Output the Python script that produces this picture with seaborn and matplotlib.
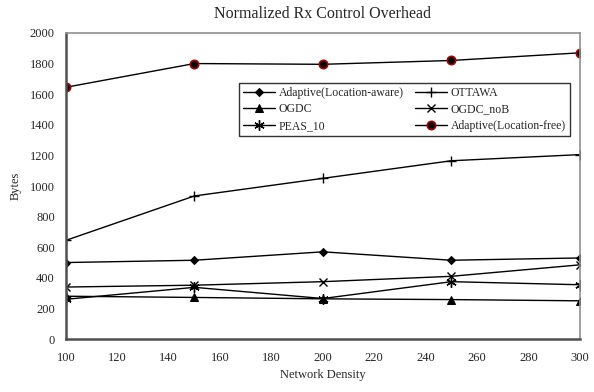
import matplotlib
matplotlib.use("Agg")
import matplotlib.pyplot as plt
import seaborn as sns
import pandas as pd

density = [100, 150, 200, 250, 300]
adaptive_aware = [500, 515, 570, 515, 530]
ottawa = [645, 935, 1050, 1165, 1205]
ogdc = [280, 272, 263, 258, 250]
ogdc_nob = [340, 352, 375, 410, 485]
peas_10 = [260, 338, 265, 375, 355]
adaptive_free = [1645, 1800, 1795, 1820, 1870]

x_ticks = [100, 120, 140, 160, 180, 200, 220, 240, 260, 280, 300]
y_ticks = [0, 200, 400, 600, 800, 1000, 1200, 1400, 1600, 1800, 2000]

title = "Normalized Rx Control Overhead"
xlabel = "Network Density"
ylabel = "Bytes"

series = [
    ("Adaptive(Location-aware)", adaptive_aware, dict(marker="D", ms=4.5, mfc="black", mec="black")),
    ("OGDC", ogdc, dict(marker="^", ms=6, mfc="black", mec="black")),
    ("PEAS_10", peas_10, dict(marker=(6, 2, 0), ms=7.5, mfc="black", mec="black", mew=1.0)),
    ("OTTAWA", ottawa, dict(marker="+", ms=7, mfc="black", mec="black", mew=1.0)),
    ("OGDC_noB", ogdc_nob, dict(marker="x", ms=5.5, mfc="black", mec="black", mew=1.0)),
    ("Adaptive(Location-free)", adaptive_free, dict(marker="o", ms=6, mfc="black", mec="#a00000", mew=1.2)),
]

rows = []
for name, vals, _ in series:
    for d, v in zip(density, vals):
        rows.append({"density": d, "value": v, "series": name})
df = pd.DataFrame(rows)

sns.set_style("white")
plt.rcParams["font.family"] = ["Liberation Serif", "DejaVu Serif"]

fig = plt.figure(figsize=(5.94, 3.92), dpi=100)
ax = fig.add_axes([0.111, 0.135, 0.865, 0.781])

for name, vals, kw in series:
    sub = df[df["series"] == name]
    sns.lineplot(data=sub, x="density", y="value", ax=ax, color="black",
                 linewidth=1.0, label=name, **kw)

ax.set_xlim(100, 300)
ax.set_ylim(0, 2000)
ax.set_xticks(x_ticks)
ax.set_yticks(y_ticks)
ax.tick_params(direction="in", length=3.5, width=1, color="#404040",
               labelsize=9, pad=8)
ax.tick_params(axis="x", pad=9)
for s in ax.spines.values():
    s.set_color("#909090")
    s.set_linewidth(1.2)
ax.spines["left"].set_color("#505050")
ax.spines["left"].set_linewidth(1.8)
ax.spines["bottom"].set_color("#505050")
ax.spines["bottom"].set_linewidth(1.8)

ax.set_title(title, fontsize=11.5, pad=11)
ax.set_xlabel(xlabel, fontsize=9, labelpad=4)
ax.set_ylabel(ylabel, fontsize=9, labelpad=6)

leg = ax.legend(ncol=2, loc="upper left", bbox_to_anchor=(0.337, 0.838),
                fontsize=8.5, frameon=True, fancybox=False, edgecolor="black",
                borderpad=0.35, labelspacing=0.4, handlelength=2.7,
                handletextpad=0.3, columnspacing=1.0, borderaxespad=0)
leg.get_frame().set_linewidth(1.0)

fig.savefig("out.png", dpi=100)
